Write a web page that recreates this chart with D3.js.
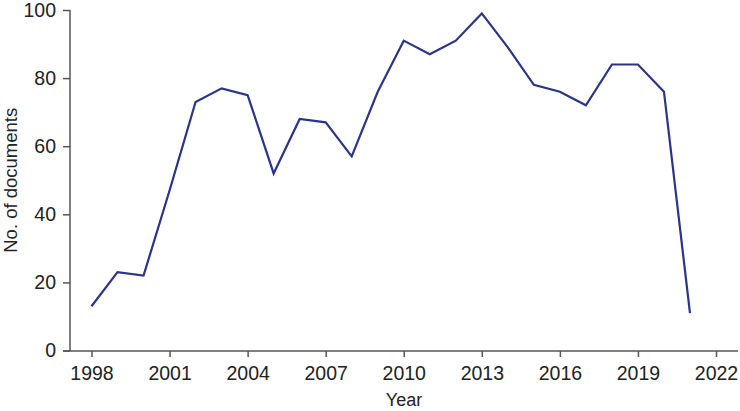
<!DOCTYPE html>
<html>
<head>
<meta charset="utf-8">
<script src="https://cdn.jsdelivr.net/npm/d3@7"></script>
<style>
  body { margin: 0; background: #fff; }
  svg text { font-family: "Liberation Sans", Arial, sans-serif; fill: #222; }
</style>
</head>
<body>
<div id="chart"></div>
<script>
// years and number of documents per year
var years = [1998, 1999, 2000, 2001, 2002, 2003, 2004, 2005, 2006, 2007, 2008, 2009,
             2010, 2011, 2012, 2013, 2014, 2015, 2016, 2017, 2018, 2019, 2020, 2021];
var docs = [13, 23, 22, 47, 73, 77, 75, 52, 68, 67, 57, 76,
            91, 87, 91, 99, 89, 78, 76, 72, 84, 84, 76, 11];
var xTicks = [1998, 2001, 2004, 2007, 2010, 2013, 2016, 2019, 2022];
var yTicks = [0, 20, 40, 60, 80, 100];

var width = 740, height = 411;
var axisLeft = 70, axisRight = 738, axisBottom = 351;

var svg = d3.select("#chart").append("svg")
    .attr("width", width)
    .attr("height", height);

// scales
var x = d3.scaleLinear().domain([1998, 2022]).range([91.5, 716]);
var y = d3.scaleLinear().domain([0, 100]).range([350.5, 10]);

// y axis
var yAxis = svg.append("g")
    .attr("transform", "translate(" + axisLeft + ",0)")
    .call(d3.axisLeft(y).tickValues(yTicks).tickSize(7).tickPadding(7).tickSizeOuter(0));
yAxis.select(".domain").attr("d", "M0," + y(100) + "V" + axisBottom);

// x axis
var xAxis = svg.append("g")
    .attr("transform", "translate(0," + axisBottom + ")")
    .call(d3.axisBottom(x).tickValues(xTicks).tickFormat(d3.format("d")).tickSize(6).tickPadding(9).tickSizeOuter(0));
xAxis.select(".domain").attr("d", "M" + (axisLeft - 7) + ",0H" + axisRight);

svg.selectAll(".domain, .tick line")
    .attr("stroke", "#555")
    .attr("stroke-width", 1.5);
svg.selectAll(".tick text")
    .style("font-size", "19.5px")
    .style("fill", "#222");

// line
var line = d3.line()
    .x(function(d, i) { return x(years[i]); })
    .y(function(d) { return y(d); });

svg.append("path")
    .datum(docs)
    .attr("d", line)
    .attr("fill", "none")
    .attr("stroke", "#2a3488")
    .attr("stroke-width", 2.2)
    .attr("stroke-linejoin", "miter");

// axis titles
svg.append("text")
    .attr("x", (axisLeft + axisRight) / 2)
    .attr("y", 406)
    .attr("text-anchor", "middle")
    .style("font-size", "18px")
    .text("Year");

svg.append("text")
    .attr("transform", "translate(17," + ((y(0) + y(100)) / 2) + ")rotate(-90)")
    .attr("text-anchor", "middle")
    .style("font-size", "18.5px")
    .text("No. of documents");
</script>
</body>
</html>
